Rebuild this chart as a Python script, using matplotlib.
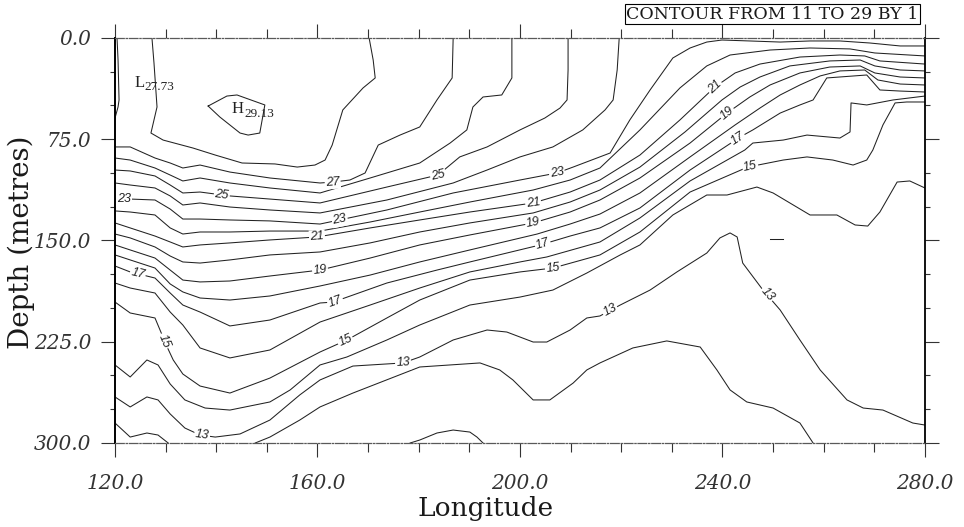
import numpy as np
import matplotlib
matplotlib.use("Agg")
import matplotlib.pyplot as plt
from matplotlib.ticker import MultipleLocator, FormatStrFormatter

# isotherms: (longitude, depth in metres)
iso29 = [(138.4, 50.4), (142.1, 43.0), (144.1, 42.2), (149.6, 49.6), (148.6, 70.4),
         (146.3, 71.9), (144.7, 70.4), (140.7, 58.5), (138.4, 50.4)]

iso28_west = [(120.4, 0), (120.6, 16.3), (120.8, 45.9), (120.6, 51.1), (120.0, 59.3)]
iso28 = [(127.3, 0), (127.7, 18.5), (128.3, 51.1), (127.1, 70.4), (129.5, 75.6), (135.4, 81.5),
         (139.8, 86.7), (145.1, 92.6), (151.6, 93.3), (156.0, 95.6), (159.5, 94.1), (161.5, 90.4),
         (162.9, 79.3), (165.0, 53.3), (169.0, 37.0), (171.4, 29.6), (171.0, 16.3), (170.2, 0)]

iso27 = [(120, 80.7), (123, 80.7), (127.9, 88.9), (130.9, 92.6), (133.4, 96.3), (136.8, 94.1),
         (142.7, 99.3), (150.6, 103.7), (160.5, 107.4), (163.1, 106.7), (166.4, 105.2),
         (169.4, 100.0), (172.0, 79.3), (176.3, 71.9), (180.2, 65.9), (183.6, 45.9),
         (186.6, 29.6), (186.8, 0)]

iso26 = [(120, 88.9), (123, 90.4), (127.9, 96.3), (130.9, 101.5), (133.4, 105.9), (136.8, 103.7),
         (142.7, 107.4), (150.6, 111.1), (160.5, 114.8), (170.4, 103.7), (180.2, 92.6),
         (186.2, 77.8), (189.5, 68.1), (190.7, 51.1), (192.7, 43.7), (196.4, 42.2),
         (198.4, 29.6), (198.4, 0)]

iso25 = [(120, 97.8), (123, 98.5), (127.9, 102.2), (130.9, 108.9), (133.4, 114.8), (136.8, 114.1),
         (142.7, 117.0), (150.6, 119.3), (160.5, 122.2), (173.7, 110.4), (183.8, 101.5),
         (188.1, 88.1), (193.5, 80.7), (200.0, 68.1), (204.9, 59.3), (207.9, 51.9),
         (209.3, 45.9), (209.5, 23.7), (209.5, 0)]

iso24 = [(120, 107.4), (123, 108.9), (127.9, 111.1), (130.9, 117.0), (133.4, 123.7), (136.8, 122.2),
         (142.7, 125.2), (150.6, 127.4), (160.5, 129.6), (173.7, 120.0), (186.8, 107.4),
         (193.5, 97.8), (200.0, 88.1), (206.5, 80.7), (212.4, 68.1), (216.8, 53.3),
         (218.4, 45.9), (219.2, 23.7), (219.6, 0)]

iso23 = [(120, 119.3), (123, 119.3), (127.9, 120.0), (130.9, 126.7), (133.4, 134.1), (136.8, 134.1),
         (142.7, 134.8), (150.6, 135.5), (160.5, 137.8), (173.7, 127.4), (186.8, 114.8),
         (200.0, 105.2), (207.3, 100.0), (210.5, 95.6), (217.8, 85.2), (221.7, 60.7),
         (225.7, 38.5), (230.2, 14.8), (233.6, 7.4), (236.9, 3.0), (239.9, 1.5), (245.4, 2.2),
         (251.4, 3.0), (257.3, 2.2), (263.2, 2.2), (269.1, 3.7), (275.1, 5.9), (280, 5.9)]

iso22 = [(120, 128.1), (123, 128.9), (127.9, 131.1), (130.9, 140.7), (133.4, 145.2), (136.8, 143.7),
         (142.7, 143.7), (150.6, 143.0), (160.5, 143.0), (170.4, 136.3), (180.2, 128.9),
         (190.1, 121.5), (202.6, 112.6), (209.9, 105.2), (215.8, 96.3), (223.7, 68.1),
         (231.6, 37.0), (236.9, 20.7), (241.5, 12.6), (249.4, 8.9), (257.3, 7.4), (265.2, 8.1),
         (270.1, 11.1), (280, 13.3)]

iso21 = [(120, 137.0), (123, 140.7), (127.9, 146.7), (130.9, 151.1), (133.4, 154.8), (136.8, 153.3),
         (142.7, 151.8), (150.6, 149.6), (159.9, 147.4), (170.4, 140.7), (180.2, 134.8),
         (190.1, 128.9), (202.6, 122.2), (209.9, 114.1), (215.8, 105.2), (223.7, 86.7),
         (231.6, 60.7), (238.5, 36.3), (242.5, 25.9), (247.4, 19.3), (255.3, 14.1),
         (263.2, 12.6), (268.1, 13.3), (271.1, 17.0), (280, 19.3)]

iso20 = [(120, 145.2), (123, 148.1), (127.9, 154.8), (130.9, 161.5), (133.4, 165.9), (136.8, 166.7),
         (142.7, 164.4), (150.6, 160.7), (160.5, 158.5), (170.4, 151.8), (180.2, 143.7),
         (190.1, 137.0), (202.6, 129.6), (209.9, 121.5), (215.8, 112.6), (223.7, 95.6),
         (232.6, 69.6), (239.9, 45.9), (243.5, 36.3), (247.4, 28.9), (253.3, 20.7),
         (261.2, 17.0), (267.2, 16.3), (270.1, 20.7), (275.1, 23.7), (280, 24.4)]

iso19 = [(120, 153.3), (123, 157.0), (127.9, 163.0), (130.9, 171.9), (133.4, 179.3), (136.8, 180.7),
         (142.7, 180.0), (150.6, 176.3), (160.5, 171.9), (170.4, 163.0), (180.2, 153.3),
         (190.1, 145.9), (202.6, 137.0), (209.9, 128.9), (215.8, 120.0), (223.7, 103.7),
         (233.6, 77.8), (240.9, 55.6), (245.4, 43.7), (249.4, 34.8), (255.3, 25.9),
         (261.2, 21.5), (267.2, 20.7), (270.1, 25.9), (275.1, 28.9), (280, 29.6)]

iso18 = [(120, 160.7), (123, 164.4), (127.9, 170.4), (130.9, 182.2), (133.4, 188.1), (136.8, 192.6),
         (142.7, 194.1), (150.6, 191.1), (160.5, 183.7), (170.4, 175.6), (180.2, 165.9),
         (190.1, 157.0), (203.4, 145.2), (209.9, 137.8), (215.8, 130.4), (223.7, 114.8),
         (233.6, 88.1), (242.5, 64.4), (247.4, 51.9), (251.4, 42.2), (255.3, 34.8),
         (259.3, 28.1), (263.2, 24.4), (268.1, 23.7), (270.7, 31.1), (275.1, 34.1), (280, 34.8)]

iso17 = [(120, 168.9), (123, 173.3), (127.9, 177.8), (130.9, 188.9), (133.4, 197.8), (136.8, 203.0),
         (142.7, 213.3), (150.6, 208.9), (160.5, 196.3), (163.1, 195.6), (173.7, 181.5),
         (183.6, 171.9), (190.1, 165.9), (204.0, 153.3), (209.9, 146.7), (215.8, 140.7),
         (223.7, 125.9), (233.6, 97.8), (243.5, 73.3), (246.0, 68.1), (251.4, 55.6),
         (255.3, 49.6), (257.9, 45.9), (260.6, 29.6), (268.5, 27.4), (271.1, 38.5),
         (275.1, 39.3), (280, 40.0)]

iso16 = [(120, 181.5), (123, 185.2), (127.9, 188.9), (130.9, 203.0), (133.4, 212.6), (136.8, 229.6),
         (142.7, 237.0), (150.6, 231.1), (160.5, 210.4), (170.4, 197.8), (180.2, 185.2),
         (190.1, 173.3), (200.0, 165.9), (205.3, 162.2), (215.8, 151.1), (223.7, 133.3),
         (233.6, 105.9), (244.4, 83.0), (246.0, 77.8), (252.0, 75.6), (256.7, 71.9),
         (263.2, 74.1), (265.2, 69.6), (265.4, 48.1), (268.5, 49.6), (273.7, 45.9), (280, 43.0)]

iso15 = [(120, 195.6), (123, 203.7), (127.9, 207.4), (130.3, 228.9), (131.5, 238.5), (133.4, 248.9),
         (136.8, 257.8), (142.7, 263.0), (150.6, 251.9), (160.5, 232.6), (165.8, 223.7),
         (173.7, 207.4), (180.2, 194.1), (190.1, 179.3), (200.0, 173.3), (206.5, 170.4),
         (215.8, 160.7), (223.7, 143.7), (233.6, 114.1), (245.0, 95.6), (252.0, 90.4),
         (256.7, 88.1), (261.8, 90.4), (265.8, 94.1), (268.5, 90.4), (269.7, 83.0),
         (271.7, 64.4), (274.1, 48.1), (276.4, 47.4), (280, 47.4)]

iso14 = [(120, 242.2), (123, 251.1), (126.3, 238.5), (128.5, 242.2), (130.9, 256.3), (133.8, 268.1),
         (137.8, 274.1), (142.7, 275.6), (150.6, 269.6), (154.6, 260.7), (160.5, 242.2),
         (165.8, 236.3), (173.7, 223.7), (180.2, 212.6), (190.1, 197.8), (200.0, 191.9),
         (206.5, 186.7), (213.2, 174.1), (219.8, 160.7), (223.7, 153.3), (230.2, 131.1),
         (236.9, 116.3), (240.9, 116.3), (246.8, 110.4), (250.0, 114.8), (257.3, 131.1),
         (262.6, 131.1), (266.2, 138.5), (268.7, 139.3), (271.1, 128.9), (274.5, 106.7),
         (277.0, 105.9), (280, 111.1)]

iso13 = [(120, 265.9), (123, 273.3), (126.3, 265.9), (128.5, 268.1), (130.9, 278.5), (133.8, 288.9),
         (136.8, 294.1), (139.8, 295.6), (144.7, 293.3), (150.6, 283.0), (156.5, 264.4),
         (160.5, 253.3), (167.0, 243.0), (176.9, 240.7), (180.2, 236.3), (186.8, 223.7),
         (193.5, 216.3), (197.4, 217.8), (202.6, 225.2), (205.3, 225.2), (209.9, 216.3),
         (213.2, 207.4), (215.8, 205.9), (219.8, 197.8), (225.7, 186.7), (231.0, 173.3),
         (236.9, 159.3), (239.5, 148.1), (241.5, 144.4), (242.9, 147.4), (244.0, 166.7),
         (248.0, 186.7), (251.4, 201.5), (255.3, 223.7), (259.3, 245.9), (264.6, 268.1),
         (267.8, 274.1), (271.7, 275.6), (277.6, 285.2), (280, 286.7)]
iso13_bit = [(249.4, 148.9), (252.0, 148.9)]

iso12_west = [(120, 285.2), (123, 295.6), (126.3, 292.6), (128.5, 294.1), (130.5, 300)]
iso12 = [(147.7, 300), (150.6, 295.6), (156.5, 283.0), (160.5, 273.3), (167.0, 263.0),
         (180.2, 243.7), (192.1, 240.7), (196.0, 245.9), (198.6, 253.3), (202.6, 268.1),
         (205.9, 268.1), (210.5, 255.6), (213.2, 245.9), (215.8, 240.7), (222.3, 229.6),
         (229.0, 224.4), (235.6, 228.9), (238.9, 245.9), (241.5, 260.7), (244.8, 269.6),
         (250.0, 274.1), (255.3, 285.2), (257.9, 300)]

iso11 = [(178.3, 300), (180.2, 297.8), (183.6, 292.6), (186.8, 290.4), (190.1, 291.9),
         (191.5, 295.6), (192.7, 300)]

# extremes marked on the plot: (longitude, depth, value)
low_mark = (123.8, 36.3, 27.73)
high_mark = (143.1, 55.6, 29.13)

isotherms = [(29, iso29), (28, iso28_west), (28, iso28), (27, iso27), (26, iso26), (25, iso25),
             (24, iso24), (23, iso23), (22, iso22), (21, iso21), (20, iso20), (19, iso19),
             (18, iso18), (17, iso17), (16, iso16), (15, iso15), (14, iso14), (13, iso13),
             (13, iso13_bit), (12, iso12_west), (12, iso12), (11, iso11)]
main_path = {27: iso27, 25: iso25, 23: iso23, 21: iso21, 19: iso19, 17: iso17, 15: iso15, 13: iso13}

# where the line labels sit (level, longitude)
label_spots = [(27, 163.0), (25, 141.1), (25, 183.8), (23, 121.8), (23, 164.4), (23, 207.3),
               (21, 159.9), (21, 202.6), (21, 238.5), (19, 160.5), (19, 202.6), (19, 240.9),
               (17, 124.5), (17, 163.5), (17, 204.5), (17, 243.0), (15, 129.8), (15, 165.5),
               (15, 206.5), (15, 245.5), (13, 137.2), (13, 176.9), (13, 217.8), (13, 248.8)]

plt.rcParams['font.family'] = 'DejaVu Serif'
plt.rcParams['font.style'] = 'italic'

fig = plt.figure(figsize=(9.64, 5.27), dpi=100)
ax = fig.add_axes([0.1193, 0.1594, 0.8402, 0.7685])
ax.set_xlim(120, 280)
ax.set_ylim(300, 0)

ink = '#222222'
for level, pts in isotherms:
    p = np.array(pts)
    ax.plot(p[:, 0], p[:, 1], color=ink, lw=0.75)


def put_label(pts, lon, text):
    p = np.asarray(pts, dtype=float)
    for (x0, y0), (x1, y1) in zip(p[:-1], p[1:]):
        if x0 != x1 and min(x0, x1) <= lon <= max(x0, x1):
            y = y0 + (lon - x0) / (x1 - x0) * (y1 - y0)
            d0 = ax.transData.transform((x0, y0))
            d1 = ax.transData.transform((x1, y1))
            ang = np.degrees(np.arctan2(d1[1] - d0[1], d1[0] - d0[0]))
            if ang > 90:
                ang -= 180
            if ang < -90:
                ang += 180
            ax.text(lon, y, text, rotation=ang, rotation_mode='anchor', ha='center', va='center',
                    fontsize=9, family=['Liberation Sans', 'DejaVu Sans'], style='italic',
                    color=ink, bbox=dict(boxstyle='square,pad=0.08', fc='white', ec='none'))
            return


for level, lon in label_spots:
    put_label(main_path[level], lon, str(level))

for letter, (lon, dep, val), dx in [('L', low_mark, 7.5), ('H', high_mark, 9.2)]:
    ax.text(lon, dep, letter, fontsize=12, style='normal', family='Liberation Serif',
            ha='left', va='baseline', color=ink)
    ax.annotate(f'{val:.2f}', xy=(lon, dep), xytext=(dx, -2.5), textcoords='offset points',
                fontsize=9.5, style='normal', family='Liberation Serif',
                ha='left', va='baseline', color=ink)

ax.xaxis.set_major_locator(MultipleLocator(40))
ax.xaxis.set_minor_locator(MultipleLocator(10))
ax.yaxis.set_major_locator(MultipleLocator(75))
ax.yaxis.set_minor_locator(MultipleLocator(25))
ax.xaxis.set_major_formatter(FormatStrFormatter('%.1f'))
ax.yaxis.set_major_formatter(FormatStrFormatter('%.1f'))

ax.tick_params(axis='x', which='both', direction='out', top=True, bottom=True,
               width=0.8, color='0.2', labelcolor='0.2')
ax.tick_params(axis='x', which='major', length=10, pad=12, labelsize=14.5)
ax.tick_params(axis='x', which='minor', length=6.5)
ax.tick_params(axis='y', which='both', direction='out', left=True, right=True,
               width=0.8, color='0.2', labelcolor='0.2')
ax.tick_params(axis='y', which='major', length=10, pad=7, labelsize=14.5)
ax.tick_params(axis='y', which='minor', length=3.6)

ax.spines['left'].set_linewidth(1.4)
ax.spines['right'].set_linewidth(1.3)
for side in ('top', 'bottom'):
    ax.spines[side].set_linewidth(0.9)
    ax.spines[side].set_color('0.35')
    ax.spines[side].set_linestyle((0, (7, 1.5, 1, 1.5)))

ax.set_xlabel('Longitude', fontsize=19, style='normal', color='0.1')
ax.xaxis.set_label_coords(0.457, -0.13)
ax.set_ylabel('Depth (metres)', fontsize=20, style='normal', color='0.1')
ax.yaxis.set_label_coords(-0.099, 0.496)

fig.text(0.953, 0.9734, 'CONTOUR FROM 11 TO 29 BY 1', ha='right', va='center',
         fontsize=12.5, style='normal', color='0.1',
         bbox=dict(boxstyle='square,pad=0.1', fc='white', ec='black', lw=0.8))

fig.savefig('out.png', dpi=100)
